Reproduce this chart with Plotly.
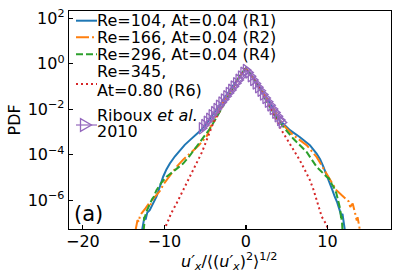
import numpy as np
import plotly.graph_objects as go

# ---------------- data (x, log10 PDF) ----------------
r1_x = [-12.75, -12.6, -12.45, -12.3, -12.1, -11.8, -11.4, -10.97, -10.55, -10.15, -9.75, -9.33,
        -8.7, -8.1, -7.5, -6.87, -6.2, -5.5, -4.8, -4.0, -3.0, -2.0, -1.0, -0.5, 0.0, 0.5, 1.0,
        2.0, 3.0, 4.17, 5.4, 6.6, 7.85, 8.67, 9.1, 9.5, 9.9, 10.3, 10.6, 10.9, 11.2, 11.5, 11.7,
        11.85, 12.0, 12.15]
r1_log = [-7.35, -7.1, -6.75, -6.85, -6.55, -6.44, -6.15, -5.85, -5.4, -4.97, -4.65, -4.39,
          -4.07, -3.8, -3.57, -3.36, -3.15, -2.92, -2.6, -2.22, -1.72, -1.18, -0.66, -0.42, -0.2,
          -0.42, -0.67, -1.2, -1.76, -2.5, -2.92, -3.22, -3.58, -3.95, -4.2, -4.53, -4.88, -5.27,
          -5.55, -5.85, -6.1, -6.44, -6.7, -6.6, -6.95, -7.35]

r2_x = [-13.55, -13.4, -13.3, -13.15, -13.0, -12.8, -12.6, -12.3, -12.0, -11.8, -11.4, -11.0,
        -10.55, -10.1, -9.73, -9.1, -8.5, -7.7, -6.87, -5.8, -4.82, -4.0, -3.0, -2.0, -1.0, -0.5,
        0.0, 0.5, 1.0, 2.0, 3.0, 4.0, 4.6, 5.8, 7.45, 8.67, 9.9, 11.1, 11.8, 12.35, 12.6, 12.8,
        12.95, 13.1, 13.4, 13.6, 13.7, 13.8, 14.0]
r2_log = [-7.35, -7.1, -6.88, -6.95, -6.7, -6.58, -6.5, -6.35, -6.2, -6.29, -5.95, -5.8, -5.6,
          -5.3, -5.12, -4.8, -4.53, -4.22, -3.95, -3.6, -3.2, -2.5, -1.82, -1.22, -0.68, -0.43,
          -0.22, -0.43, -0.68, -1.22, -1.8, -2.4, -2.7, -3.14, -3.58, -4.1, -4.83, -5.56, -5.8,
          -6.0, -6.05, -6.3, -6.22, -6.15, -6.58, -6.9, -6.75, -7.02, -7.35]

r4_x = [-12.55, -12.45, -12.5, -12.35, -12.2, -12.0, -11.8, -11.5, -11.3, -10.97, -10.4, -9.73,
        -8.7, -7.7, -6.9, -6.05, -5.2, -4.4, -3.5, -2.5, -1.5, -0.7, 0.0, 0.7, 1.5, 2.5, 3.5,
        4.6, 5.8, 7.45, 8.67, 9.9, 10.2, 10.5, 10.8, 11.1, 11.3, 11.5, 11.6, 11.7, 11.75, 11.85]
r4_log = [-7.35, -7.0, -6.8, -6.7, -6.5, -6.35, -6.14, -5.95, -5.85, -5.56, -5.25, -4.97, -4.68,
          -4.39, -4.05, -3.65, -3.2, -2.85, -2.3, -1.65, -1.0, -0.52, -0.18, -0.52, -1.0, -1.6,
          -2.25, -2.78, -3.29, -3.88, -4.53, -4.97, -5.05, -5.27, -5.45, -5.7, -5.95, -6.29,
          -6.5, -6.88, -6.7, -7.35]

r6_x = [-9.95, -9.7, -9.5, -9.2, -8.5, -7.9, -7.3, -6.7, -6.05, -5.4, -4.8, -4.0, -3.0, -2.0,
        -1.0, -0.5, 0.0, 0.5, 1.0, 2.0, 3.0, 4.17, 5.4, 6.0, 6.6, 7.2, 7.85, 8.3, 8.67, 9.0, 9.3,
        9.6, 9.9, 10.1]
r6_log = [-7.35, -7.0, -6.88, -6.6, -6.14, -5.7, -5.27, -4.85, -4.39, -3.9, -3.35, -2.6, -1.95,
          -1.3, -0.7, -0.43, -0.2, -0.43, -0.7, -1.3, -1.95, -2.8, -3.5, -3.85, -4.24, -4.65,
          -5.12, -5.55, -6.0, -6.4, -6.73, -6.9, -7.1, -7.35]

rib_x = [-5.4, -5.1, -4.8, -4.5, -4.2, -3.9, -3.6, -3.3, -3.0, -2.7, -2.4, -2.1, -1.8, -1.5,
         -1.2, -0.9, -0.6, -0.3, 0.0, 0.3, 0.6, 0.9, 1.2, 1.5, 1.8, 2.1, 2.4, 2.7, 3.0, 3.3,
         3.6, 3.9, 4.2, 4.4]
rib_log = [-2.84, -2.70, -2.55, -2.42, -2.27, -2.13, -1.99, -1.85, -1.71, -1.57, -1.43, -1.29,
           -1.15, -1.0, -0.86, -0.71, -0.56, -0.40, -0.28, -0.38, -0.55, -0.71, -0.87, -1.03,
           -1.19, -1.35, -1.51, -1.67, -1.83, -1.99, -2.15, -2.31, -2.47, -2.58]

legend_labels = [["Re=104, At=0.04 (R1)"], ["Re=166, At=0.04 (R2)"], ["Re=296, At=0.04 (R4)"],
                 ["Re=345,", "At=0.80 (R6)"], ["Riboux <i>et al.</i>", "2010"]]

y_tickvals = [1e-6, 1e-4, 1e-2, 1e0, 1e2]
y_ticktext = ["10<sup>−6</sup>", "10<sup>−4</sup>", "10<sup>−2</sup>", "10<sup>0</sup>", "10<sup>2</sup>"]
x_tickvals = [-20, -10, 0, 10]

# ---------------- styling ----------------
BLUE, ORANGE, GREEN, RED, PURPLE = "#1f77b4", "#ff7f0e", "#2ca02c", "#d62728", "#9467bd"
FONT = "DejaVu Sans"
W, H = 399, 280
L, R, T, B = 69, 391, 11, 229


def px(x):
    return (x - L) / (R - L)


def py(y):
    return (B - y) / (B - T)


fig = go.Figure()
series = [
    (r1_x, r1_log, BLUE, "solid"),
    (r2_x, r2_log, ORANGE, "13px,3px,2px,3px"),
    (r4_x, r4_log, GREEN, "7px,3px"),
    (r6_x, r6_log, RED, "2px,3px"),
]
for xs, ls, col, dash in series:
    fig.add_trace(go.Scatter(x=xs, y=10 ** np.array(ls), mode="lines",
                             line=dict(color=col, width=2, dash=dash), showlegend=False))

fig.add_trace(go.Scatter(x=rib_x, y=10 ** np.array(rib_log), mode="lines+markers",
                         line=dict(color=PURPLE, width=1.2),
                         marker=dict(symbol="triangle-right-open", size=10, color=PURPLE,
                                     line=dict(color=PURPLE, width=1.3)),
                         showlegend=False))

# ---------------- manual legend ----------------
handle_y = [20.7, 37.3, 54.3, 84, 125]
handle_dash = ["solid", "13px,3px,2px,3px", "7px,3px", "2px,3px", "solid"]
handle_col = [BLUE, ORANGE, GREEN, RED, PURPLE]
text_y = [[21], [37.5], [54], [71.5, 90.5], [115.5, 131.7]]
shapes = []
annotations = []
for i in range(5):
    shapes.append(dict(type="line", xref="paper", yref="paper", x0=px(76), x1=px(97),
                       y0=py(handle_y[i]), y1=py(handle_y[i]),
                       line=dict(color=handle_col[i], width=2 if i < 4 else 1.2,
                                 dash=handle_dash[i])))
    for lab, ty in zip(legend_labels[i], text_y[i]):
        annotations.append(dict(text=lab, xref="paper", yref="paper", x=px(95), y=py(ty),
                                xanchor="left", yanchor="middle", showarrow=False,
                                font=dict(family=FONT, size=16, color="black")))
# legend marker triangle
cx, cy = 86, 125
tri = "M {:.5f},{:.5f} L {:.5f},{:.5f} L {:.5f},{:.5f} Z".format(
    px(cx - 5.5), py(cy - 6.3), px(cx - 5.5), py(cy + 6.3), px(cx + 5.5), py(cy))
shapes.append(dict(type="path", xref="paper", yref="paper", path=tri,
                   line=dict(color=PURPLE, width=1.3), fillcolor="rgba(0,0,0,0)"))

# axis titles and panel label
annotations.append(dict(text="PDF", xref="paper", yref="paper", x=px(13.5), y=py(120),
                        textangle=-90, showarrow=False, xanchor="center", yanchor="middle",
                        font=dict(family=FONT, size=16, color="black")))
annotations.append(dict(text="<i>u′<sub>x</sub></i>/⟨(<i>u′<sub>x</sub></i>)<sup>2</sup>⟩<sup>1/2</sup>",
                        xref="paper", yref="paper", x=px(229), y=py(261),
                        showarrow=False, xanchor="center", yanchor="middle",
                        font=dict(family=FONT, size=16, color="black")))
annotations.append(dict(text="(a)", xref="paper", yref="paper", x=px(88), y=py(214),
                        showarrow=False, xanchor="center", yanchor="middle",
                        font=dict(family=FONT, size=21, color="black")))

axis_common = dict(showline=True, mirror=True, linecolor="black", linewidth=1.3,
                   ticks="inside", ticklen=4, tickwidth=1.2, tickcolor="black",
                   showgrid=False, zeroline=False, automargin=False,
                   tickfont=dict(family=FONT, size=16, color="black"))

fig.update_layout(
    template="none",
    width=W, height=H,
    margin=dict(l=L, r=W - R, t=T, b=H - B, pad=0),
    paper_bgcolor="white", plot_bgcolor="white",
    font=dict(family=FONT, size=16, color="black"),
    shapes=shapes, annotations=annotations,
    xaxis=dict(range=[-21.7, 17.8], tickvals=x_tickvals, ticklabelstandoff=-3, **axis_common),
    yaxis=dict(type="log", range=[-7.27, 2.32], tickvals=y_tickvals, ticktext=y_ticktext,
               **axis_common),
    showlegend=False,
)

fig.write_html("out.html", config={"displayModeBar": False, "staticPlot": True},
               post_script="document.body.style.margin='0';document.body.style.overflow='hidden';")
